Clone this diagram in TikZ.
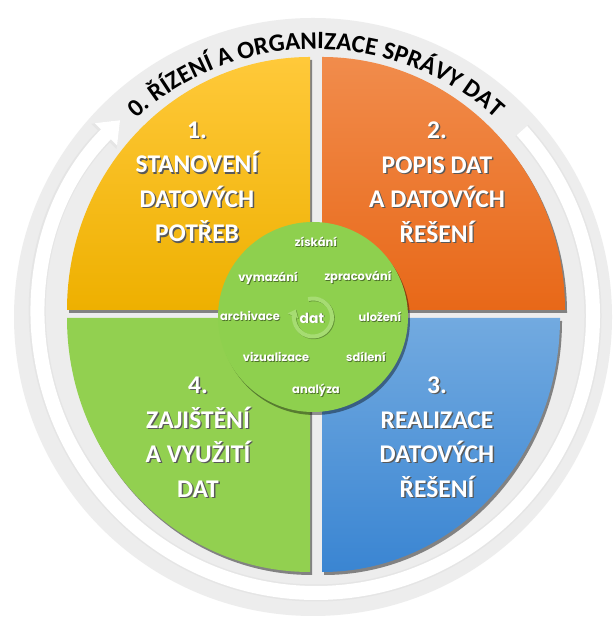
\documentclass[tikz,border=0pt]{standalone}
\usepackage{fontspec}
\newfontfamily\carl{Carlito}
\newfontfamily\pop{Poppins}
\usetikzlibrary{arrows.meta,shadows,decorations.text}
\definecolor{disk}{HTML}{EDEDED}
\definecolor{ylt}{HTML}{FFC93A}
\definecolor{ydk}{HTML}{EEB000}
\definecolor{olt}{HTML}{F18C4C}
\definecolor{odk}{HTML}{E86818}
\definecolor{blt}{HTML}{72AAE0}
\definecolor{bdk}{HTML}{3A85D2}
\definecolor{gq}{HTML}{92D050}
\definecolor{gin}{HTML}{8ED04E}
\definecolor{garrow}{HTML}{A6DC72}
\tikzset{
  quad/.style={drop shadow={shadow xshift=2pt, shadow yshift=-3pt, opacity=0.45, fill=black}},
  qtxt/.style={text=white, font=\carl\bfseries\fontsize{25.5}{34.5}\selectfont, align=center},
  qsh/.style={text=black!65, font=\carl\bfseries\fontsize{25.5}{34.5}\selectfont, align=center, xshift=1.4pt, yshift=-1.4pt},
  itxt/.style={text=white, font=\pop\bfseries\fontsize{11.5}{14}\selectfont},
  ish/.style={text=black!45!gin, font=\pop\bfseries\fontsize{11.5}{14}\selectfont, xshift=0.8pt, yshift=-0.8pt},
}
\newcommand\qlabel[4]{%
  \node[qsh] (#1s) at (#2,#3) {#4};
  \node[qtxt] (#1) at (#2,#3) {#4};}
\newcommand\ilabel[5][]{%
  \node[ish,#1] (#2s) at (#3,#4) {#5};
  \node[itxt,#1] (#2) at (#3,#4) {#5};}
\begin{document}
\begin{tikzpicture}[x=1pt,y=1pt]
\useasboundingbox (0,0) rectangle (614,617);
\fill[white] (0,0) rectangle (614,617);
\coordinate (C) at (316,301);
% outer disk
\fill[disk] (313,300) circle (299);
% cycle arrow band
\draw[line width=17pt, black!10, -{Triangle[width=34pt,length=23pt]}]
  (C) ++(42:277) arc[start angle=42, end angle=-225, radius=277];
\draw[line width=14pt, white, -{Triangle[width=30pt,length=20pt]}]
  (C) ++(42:277) arc[start angle=42, end angle=-225, radius=277];
% title along the arc
\path[decorate, decoration={text along path, text align=center,
  text={|\carl\bfseries\fontsize{25}{25}\selectfont\color{black}|0. ŘÍZENÍ A ORGANIZACE SPRÁVY DAT}}]
  (C) ++(142:267) arc[start angle=142, end angle=38, radius=267];
% quadrants
\path[quad, top color=ylt, bottom color=ydk]
  (310,307) -- ++(0,253) arc[start angle=90, end angle=180, x radius=243, y radius=253] -- cycle;
\path[quad, top color=olt, bottom color=odk]
  (322,307) -- ++(243,0) arc[start angle=0, end angle=90, x radius=243, y radius=253] -- cycle;
\path[quad, top color=blt, bottom color=bdk]
  (322,299) -- ++(0,-254) arc[start angle=-90, end angle=0, x radius=238, y radius=254] -- cycle;
\path[quad, fill=gq]
  (310,299) -- ++(-243,0) arc[start angle=180, end angle=270, x radius=243, y radius=254] -- cycle;
% quadrant labels
\qlabel{q1}{197}{435}{1.\\STANOVENÍ\\DATOVÝCH\\POTŘEB}
\qlabel{q2}{437}{435}{2.\\POPIS DAT\\A DATOVÝCH\\ŘEŠENÍ}
\qlabel{q3}{437}{180}{3.\\REALIZACE\\DATOVÝCH\\ŘEŠENÍ}
\qlabel{q4}{198}{180}{4.\\ZAJIŠTĚNÍ\\A VYUŽITÍ\\DAT}
% inner circle
\fill[gin, drop shadow={shadow xshift=2pt, shadow yshift=-3pt, opacity=0.4, fill=black}] (313,300) circle (95);
\draw[line width=4pt, black!30!gin, -{Triangle[width=11pt,length=7pt]}]
  (313.8,298.8) ++(105:19) arc[start angle=105, end angle=-205, radius=19];
\draw[line width=4pt, garrow, -{Triangle[width=11pt,length=7pt]}]
  (313,299.5) ++(105:19) arc[start angle=105, end angle=-205, radius=19];
\ilabel{w1}{316}{375}{získání}
\ilabel{w2}{268}{339}{vymazání}
\ilabel{w3}{358}{340}{zpracování}
\ilabel{w4}{250}{301}{archivace}
\ilabel[font=\pop\bfseries\fontsize{14}{16}\selectfont]{w5}{312}{299}{dat}
\ilabel{w6}{380}{300}{uložení}
\ilabel{w7}{276}{260}{vizualizace}
\ilabel{w8}{366}{260}{sdílení}
\ilabel{w9}{316}{227}{analýza}
\end{tikzpicture}
\end{document}
